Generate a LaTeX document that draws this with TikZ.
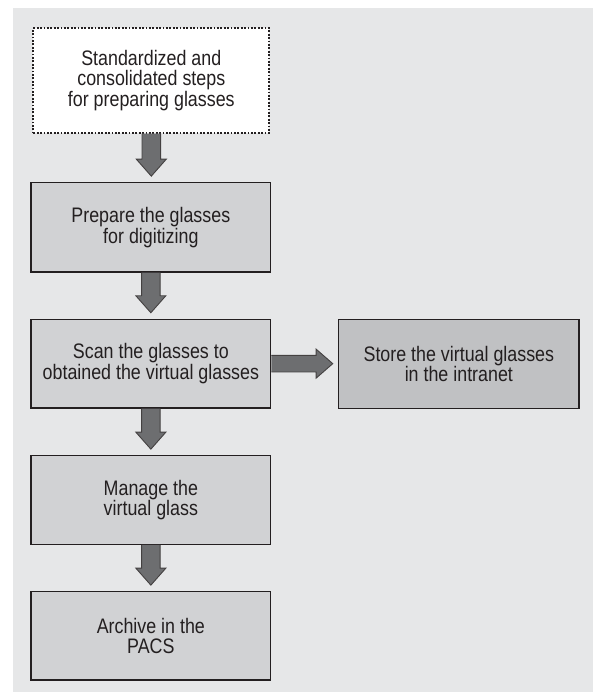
\documentclass[tikz,border=0pt]{standalone}
\usepackage{fontspec}
\setmainfont[FakeStretch=0.85]{Liberation Sans}
\usetikzlibrary{calc}
\definecolor{panelc}{HTML}{E6E7E8}
\definecolor{boxc}{HTML}{D1D2D4}
\definecolor{boxr}{HTML}{C0C1C3}
\definecolor{arrc}{HTML}{6D6E70}
\definecolor{inkc}{HTML}{231F20}
\tikzset{
  stepbox/.style={draw=inkc, line width=1.1pt, fill=boxc, text=inkc, align=center,
    inner sep=0pt, font=\fontsize{21}{20.5}\selectfont},
  startbox/.style={stepbox, fill=white, dash pattern=on 1.8pt off 1.6pt, line width=1.9pt},
  sidebox/.style={stepbox, fill=boxr},
  barrow/.style={draw=inkc!85, line width=0.9pt, fill=arrc, line join=miter},
}
\newcommand\vblockarrow[2]{%
  \path[barrow] let \p1=(#1.south), \p2=(#2.north) in
    (\x1-9.3pt,\y1) -- (\x1-9.3pt,\y2+23pt) -- (\x1-15pt,\y2+23pt) -- (\x1,\y2+6pt)
    -- (\x1+15pt,\y2+23pt) -- (\x1+9.3pt,\y2+23pt) -- (\x1+9.3pt,\y1);}
\newcommand\hblockarrow[2]{%
  \path[barrow] let \p1=(#1.east), \p2=(#2.west) in
    (\x1,\y1+8.3pt) -- (\x2-22pt,\y1+8.3pt) -- (\x2-22pt,\y1+14.5pt) -- (\x2-5.4pt,\y1)
    -- (\x2-22pt,\y1-14.5pt) -- (\x2-22pt,\y1-8.3pt) -- (\x1,\y1-8.3pt);}
\begin{document}
\begin{tikzpicture}[x=1pt,y=-1pt]
\useasboundingbox (0,0) rectangle (593,693);
\fill[white] (0,0) rectangle (593,693);
\fill[panelc] (12.7,8) rectangle (593,692.3);
\node[startbox, minimum width=236pt, minimum height=104.4pt] (b0) at (151.3,80.5)
  {Standardized and\\consolidated steps\\for preparing glasses};
\node[stepbox, minimum width=239.7pt, minimum height=89.3pt] (b1) at (150.85,227.35)
  {Prepare the glasses\\for digitizing};
\node[stepbox, minimum width=239.7pt, minimum height=88.7pt] (b2) at (150.85,363.65)
  {Scan the glasses to\\obtained the virtual glasses};
\node[sidebox, minimum width=240.3pt, minimum height=89.2pt] (r) at (458.85,363.9)
  {Store the virtual glasses\\in the intranet};
\node[stepbox, minimum width=239.7pt, minimum height=88.6pt] (b3) at (150.85,500)
  {Manage the\\virtual glass};
\node[stepbox, minimum width=239.7pt, minimum height=88.3pt] (b4) at (150.85,635.85)
  {Archive in the\\PACS};
\vblockarrow{b0}{b1}
\vblockarrow{b1}{b2}
\vblockarrow{b2}{b3}
\vblockarrow{b3}{b4}
\hblockarrow{b2}{r}
\end{tikzpicture}
\end{document}
